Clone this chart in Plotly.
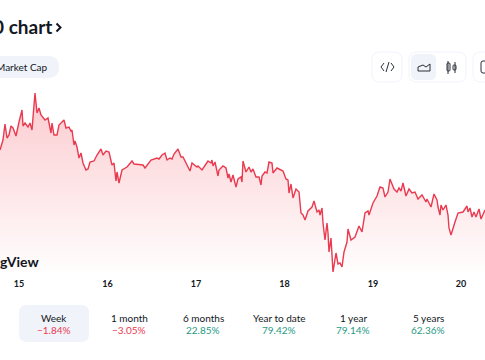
import plotly.graph_objects as go

# Sample position along the time axis and index level
sample = [0,2,3,5,7,9,11,13,16,19,22,23,25,28,30,32,35,37,39,41,45,48,51,52,54,57,59,64,66,69,71,72,74,75,77,79,81,83,86,88,90,94,97,101,103,106,109,112,114,116,117,119,122,127,132,134,143,145,151,157,159,
 162,165,167,170,172,174,178,181,183,188,190,192,197,198,202,208,211,212,213,215,218,219,223,226,228,229,231,233,236,238,241,242,243,246,249,251,253,256,259,261,262,265,267,269,272,273,277,283,286,288,289,291,293,296,299,301,303,305,308,312,314,317,319,
 320,322,323,325,327,328,329,331,333,336,338,340,342,344,347,348,351,355,359,362,365,368,369,373,377,380,383,385,388,390,394,397,399,401,403,406,409,412,415,418,422,426,427,431,434,437,438,440,441,443,446,448,449,451,455,458,463,467,468,470,472,474,476,479,481,485]
level = [122,130,132,148,134,137,146,144,136,150,162,146,149,145,149,142,179,159,164,157,152,154,139,149,137,137,147,152,144,145,141,142,127,131,125,114,119,109,102,103,110,111,117,123,117,121,120,107,109,91,100,89,102,105,111,108,107,104,112,114,113,
 117,119,112,114,113,118,123,115,115,105,101,109,105,106,102,111,109,112,106,110,96,102,106,104,94,98,90,97,85,93,95,90,111,100,105,100,103,95,95,87,96,100,99,110,109,99,104,101,93,92,79,88,74,83,80,59,57,52,61,65,71,60,62,
 57,64,49,32,49,39,20,34,0,19,8,9,5,20,30,43,32,35,46,40,59,61,57,69,76,85,84,75,80,93,83,80,84,81,89,76,83,79,80,73,77,70,73,65,78,72,65,57,67,62,67,57,44,37,50,59,60,66,60,64,55,60,55,63,53,62,67]
tick_samples = [19,107.5,196,284.5,373,461]
tick_labels = ["15","16","17","18","19","20"]
periods = ["Week","1 month","6 months","Year to date","1 year","5 years"]
changes = ["\u22121.84%","\u22123.05%","22.85%","79.42%","79.14%","62.36%"]
period_x = [54,129,203,279,353,428]

W, H, PH = 485, 360, 272
FONT = "Lato"
INK = "#131722"
RED = "#ea3a50"
GREEN = "#1f9a85"
def X(p): return p / W
def Y(p): return 1 - p / PH

fig = go.Figure(go.Scatter(
    x=sample, y=level, mode="lines",
    line=dict(color=RED, width=1.4, shape="linear"),
    fill="tozeroy",
    fillgradient=dict(type="vertical", colorscale=[[0, "rgba(242,54,69,0.01)"], [1, "rgba(242,54,69,0.26)"]]),
    hoverinfo="skip", showlegend=False))

def rrect(x0, y0, x1, y1, r, fill=None, line=None):
    d = (f"M {X(x0+r)} {Y(y0)} L {X(x1-r)} {Y(y0)} Q {X(x1)} {Y(y0)} {X(x1)} {Y(y0+r)} "
         f"L {X(x1)} {Y(y1-r)} Q {X(x1)} {Y(y1)} {X(x1-r)} {Y(y1)} L {X(x0+r)} {Y(y1)} "
         f"Q {X(x0)} {Y(y1)} {X(x0)} {Y(y1-r)} L {X(x0)} {Y(y0+r)} Q {X(x0)} {Y(y0)} {X(x0+r)} {Y(y0)} Z")
    return dict(type="path", xref="paper", yref="paper", path=d, fillcolor=fill or "rgba(0,0,0,0)",
                line=dict(color=line or "rgba(0,0,0,0)", width=1), layer="below")

def seg(pts, color="#2a2e39", width=1):
    d = "M " + " L ".join(f"{X(a)} {Y(b)}" for a, b in pts)
    return dict(type="path", xref="paper", yref="paper", path=d, line=dict(color=color, width=width))

shapes = [
    rrect(-12, 56, 59, 78, 11, fill="#f0f3fa"),
    rrect(19, 305, 89, 342, 8, fill="#f0f3fa"),
    rrect(372, 52, 402, 82, 8, line="#f0f3fa"),
    rrect(409, 52, 466, 82, 8, line="#f0f3fa"),
    rrect(411, 54, 436, 80, 6, fill="#f0f3fa"),
    rrect(473, 52, 500, 82, 8, line="#f0f3fa"),
    # title chevron
    seg([(56.5, 23.5), (60.5, 27.5), (56.5, 31.5)], color=INK, width=2),
    # code icon
    seg([(384, 63), (381, 67), (384, 71)]),
    seg([(391, 63), (394, 67), (391, 71)]),
    seg([(389, 62), (386, 72)]),
    # area icon
    seg([(418, 71), (418, 67), (423, 65), (426, 67), (430, 64), (430, 71), (418, 71)]),
    # candle icon
    seg([(448, 61), (448, 74)]), seg([(455, 62), (455, 73)]),
    rrect(447, 63, 450, 71, 1, fill="#ffffff", line="#2a2e39"),
    rrect(453, 65, 456, 70, 1, fill="#ffffff", line="#2a2e39"),
    rrect(481, 61, 490, 73, 2, line="#2a2e39"),
]

def note(x, y, text, size, color=INK, anchor="center", weight=400):
    return dict(xref="paper", yref="paper", x=X(x), y=Y(y), text=text, showarrow=False, xanchor=anchor,
                yanchor="middle", font=dict(family=FONT, size=size, color=color, weight=weight))

anns = [
    note(54, 27, "0 chart", 19, anchor="right", weight=700),
    note(49.5, 67, "Market Cap", 10, anchor="right"),
    note(41, 261, "ngView", 14, anchor="right", weight=700),
    note(484, 329, "7", 10, GREEN, anchor="left"),
]
for x, p, c in zip(period_x, periods, changes):
    anns.append(note(x, 317.5, p, 10))
    anns.append(note(x, 329.5, c, 10, RED if c.startswith("\u2212") else GREEN))

fig.update_layout(
    width=W, height=H, autosize=False,
    margin=dict(l=0, r=0, t=0, b=H - PH, pad=0),
    paper_bgcolor="#ffffff", plot_bgcolor="#ffffff",
    xaxis=dict(range=[0, W], tickmode="array", tickvals=tick_samples, ticktext=tick_labels,
               showgrid=False, zeroline=False, showline=False, ticks="outside", ticklen=3,
               tickcolor="rgba(0,0,0,0)", tickfont=dict(family=FONT, size=9, color=INK, weight=700)),
    yaxis=dict(range=[0, PH], visible=False, showgrid=False, zeroline=False),
    shapes=shapes, annotations=anns,
)
fig.write_html("out.html", config=dict(displayModeBar=False),
               post_script="document.body.style.margin='0';document.body.style.overflow='hidden';")
